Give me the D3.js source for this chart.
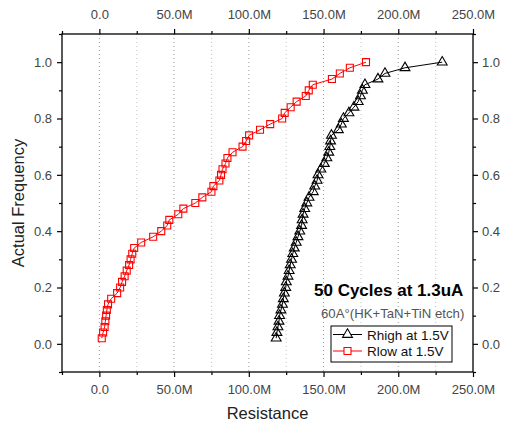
<!DOCTYPE html>
<html>
<head>
<meta charset="utf-8">
<script src="https://cdn.jsdelivr.net/npm/d3@7"></script>
<style>
body { margin: 0; background: #fff; }
text { font-family: Arial, "Liberation Sans", sans-serif; }
</style>
</head>
<body>
<svg id="chart" width="505" height="425"></svg>
<script>
// resistance in M-ohm, cumulative frequency
var rlowRes = [1.6, 2.5, 3.5, 4.0, 4.5, 5.0, 5.8, 7.9, 11.9, 13.9,
  15.2, 16.9, 18.3, 19.9, 20.9, 22.0, 23.3, 28.0, 36.0, 41.4,
  45.4, 46.8, 52.8, 56.2, 64.2, 68.9, 75.0, 76.3, 80.3, 81.4,
  82.4, 84.4, 85.7, 89.1, 95.8, 98.2, 100.2, 107.5, 114.3, 122.3,
  124.0, 128.0, 132.0, 138.1, 140.1, 142.8, 155.6, 160.9, 167.6, 178.4];
var rhighRes = [118.3, 118.8, 119.5, 120.2, 120.6, 121.5, 122.5, 123.1, 123.8, 124.7,
  125.1, 126.2, 127.0, 127.7, 128.6, 129.4, 130.4, 131.7, 132.9, 134.1,
  135.3, 135.7, 136.3, 137.4, 138.8, 140.3, 143.1, 144.1, 145.7, 146.3,
  148.2, 150.5, 152.2, 153.5, 154.2, 154.7, 155.3, 159.9, 161.9, 163.3,
  167.0, 170.3, 173.2, 174.7, 176.0, 177.7, 186.4, 191.1, 204.5, 229.4];
var freq = [0.02, 0.04, 0.06, 0.08, 0.10, 0.12, 0.14, 0.16, 0.18, 0.20,
  0.22, 0.24, 0.26, 0.28, 0.30, 0.32, 0.34, 0.36, 0.38, 0.40,
  0.42, 0.44, 0.46, 0.48, 0.50, 0.52, 0.54, 0.56, 0.58, 0.60,
  0.62, 0.64, 0.66, 0.68, 0.70, 0.72, 0.74, 0.76, 0.78, 0.80,
  0.82, 0.84, 0.86, 0.88, 0.90, 0.92, 0.94, 0.96, 0.98, 1.00];

var xMajor = [0, 50, 100, 150, 200, 250];
var xMinor = [-25, 25, 75, 125, 175, 225];
var yMajor = [0, 0.2, 0.4, 0.6, 0.8, 1.0];
var yMinor = [-0.1, 0.1, 0.3, 0.5, 0.7, 0.9, 1.1];

var svg = d3.select("#chart");
var plotLeft = 62, plotRight = 473, plotTop = 34, plotBottom = 372;

var x = d3.scaleLinear().domain([-25, 250]).range([plotLeft, plotRight]);
var y = d3.scaleLinear().domain([-0.1, 1.1]).range([plotBottom, plotTop]);

var fmtX = function (v) { return v === 0 ? "0.0" : v.toFixed(1) + "M"; };
var fmtY = function (v) { return v.toFixed(1); };

// vertical dotted grid
svg.append("g").selectAll("line").data(xMajor.concat(xMinor).filter(function (v) { return v > -25 && v < 250; }))
  .enter().append("line")
  .attr("x1", function (d) { return x(d); }).attr("x2", function (d) { return x(d); })
  .attr("y1", plotTop).attr("y2", plotBottom)
  .attr("stroke", function (d) { return d % 50 === 0 ? "#999" : "#c4c4c4"; })
  .attr("stroke-width", 1)
  .attr("stroke-dasharray", "1,3");

function series(res, color, symType, symSize) {
  var pts = res.map(function (r, i) { return [r, freq[i]]; });
  var line = d3.line().x(function (d) { return x(d[0]); }).y(function (d) { return y(d[1]); });
  svg.append("path").datum(pts).attr("d", line)
    .attr("fill", "none").attr("stroke", color).attr("stroke-width", 1);
  svg.append("g").selectAll("path").data(pts).enter().append("path")
    .attr("d", d3.symbol().type(symType).size(symSize))
    .attr("transform", function (d) { return "translate(" + x(d[0]) + "," + y(d[1]) + ")"; })
    .attr("fill", "none").attr("stroke", color).attr("stroke-width", 1.1);
}
series(rlowRes, "#ff0000", d3.symbolSquare, 49);
series(rhighRes, "#000", d3.symbolTriangle, 42);

// frame
svg.append("rect").attr("x", plotLeft).attr("y", plotTop)
  .attr("width", plotRight - plotLeft).attr("height", plotBottom - plotTop)
  .attr("fill", "none").attr("stroke", "#000").attr("stroke-width", 1.3);

function styleAxis(g) {
  g.select(".domain").remove();
  g.selectAll("line").attr("stroke", "#000").attr("stroke-width", 1.2);
  g.selectAll("text").attr("font-size", 13).attr("fill", "#444").attr("font-family", "Arial, 'Liberation Sans', sans-serif");
}

svg.append("g").attr("transform", "translate(0," + plotBottom + ")")
  .call(d3.axisBottom(x).tickValues(xMajor).tickSize(5).tickPadding(8).tickFormat(fmtX)).call(styleAxis);
svg.append("g").attr("transform", "translate(0," + plotBottom + ")")
  .call(d3.axisBottom(x).tickValues(xMinor).tickSize(3).tickFormat("")).call(styleAxis);
svg.append("g").attr("transform", "translate(0," + plotTop + ")")
  .call(d3.axisTop(x).tickValues(xMajor).tickSize(5).tickPadding(10).tickFormat(fmtX)).call(styleAxis);
svg.append("g").attr("transform", "translate(0," + plotTop + ")")
  .call(d3.axisTop(x).tickValues(xMinor).tickSize(3).tickFormat("")).call(styleAxis);
svg.append("g").attr("transform", "translate(" + plotLeft + ",0)")
  .call(d3.axisLeft(y).tickValues(yMajor).tickSize(5).tickPadding(5).tickFormat(fmtY)).call(styleAxis);
svg.append("g").attr("transform", "translate(" + plotLeft + ",0)")
  .call(d3.axisLeft(y).tickValues(yMinor).tickSize(3).tickFormat("")).call(styleAxis);
svg.append("g").attr("transform", "translate(" + plotRight + ",0)")
  .call(d3.axisRight(y).tickValues(yMajor).tickSize(5).tickPadding(4).tickFormat(fmtY)).call(styleAxis);
svg.append("g").attr("transform", "translate(" + plotRight + ",0)")
  .call(d3.axisRight(y).tickValues(yMinor).tickSize(3).tickFormat("")).call(styleAxis);

// axis titles
svg.append("text").attr("x", (plotLeft + plotRight) / 2).attr("y", 419)
  .attr("text-anchor", "middle").attr("font-size", 16.5).attr("fill", "#222").text("Resistance");
svg.append("text").attr("transform", "translate(24," + (plotTop + plotBottom) / 2 + ") rotate(-90)")
  .attr("text-anchor", "middle").attr("font-size", 16.5).attr("fill", "#222").text("Actual Frequency");

// annotations
svg.append("text").attr("x", 314).attr("y", 296).attr("font-size", 17).attr("font-weight", "bold")
  .attr("fill", "#000").text("50 Cycles at 1.3uA");
svg.append("text").attr("x", 321).attr("y", 318).attr("font-size", 13.2)
  .attr("fill", "#555").text("60A°(HK+TaN+TiN etch)");

// legend
var legend = svg.append("g");
legend.append("rect").attr("x", 331).attr("y", 326).attr("width", 121).attr("height", 36)
  .attr("fill", "#fff").attr("stroke", "#000").attr("stroke-width", 1);
var legendItems = [
  { label: "Rhigh at 1.5V", color: "#000", sym: d3.symbolTriangle, size: 42, ly: 334.5 },
  { label: "Rlow at 1.5V", color: "#ff0000", sym: d3.symbolSquare, size: 49, ly: 351 }
];
legendItems.forEach(function (it) {
  legend.append("line").attr("x1", 333).attr("x2", 362).attr("y1", it.ly).attr("y2", it.ly)
    .attr("stroke", it.color).attr("stroke-width", 1);
  legend.append("path").attr("d", d3.symbol().type(it.sym).size(it.size)())
    .attr("transform", "translate(347.5," + it.ly + ")")
    .attr("fill", "#fff").attr("stroke", it.color).attr("stroke-width", 1.1);
  legend.append("text").attr("x", 367).attr("y", it.ly + 5).attr("font-size", 13.5)
    .attr("fill", "#111").text(it.label);
});
</script>
</body>
</html>
